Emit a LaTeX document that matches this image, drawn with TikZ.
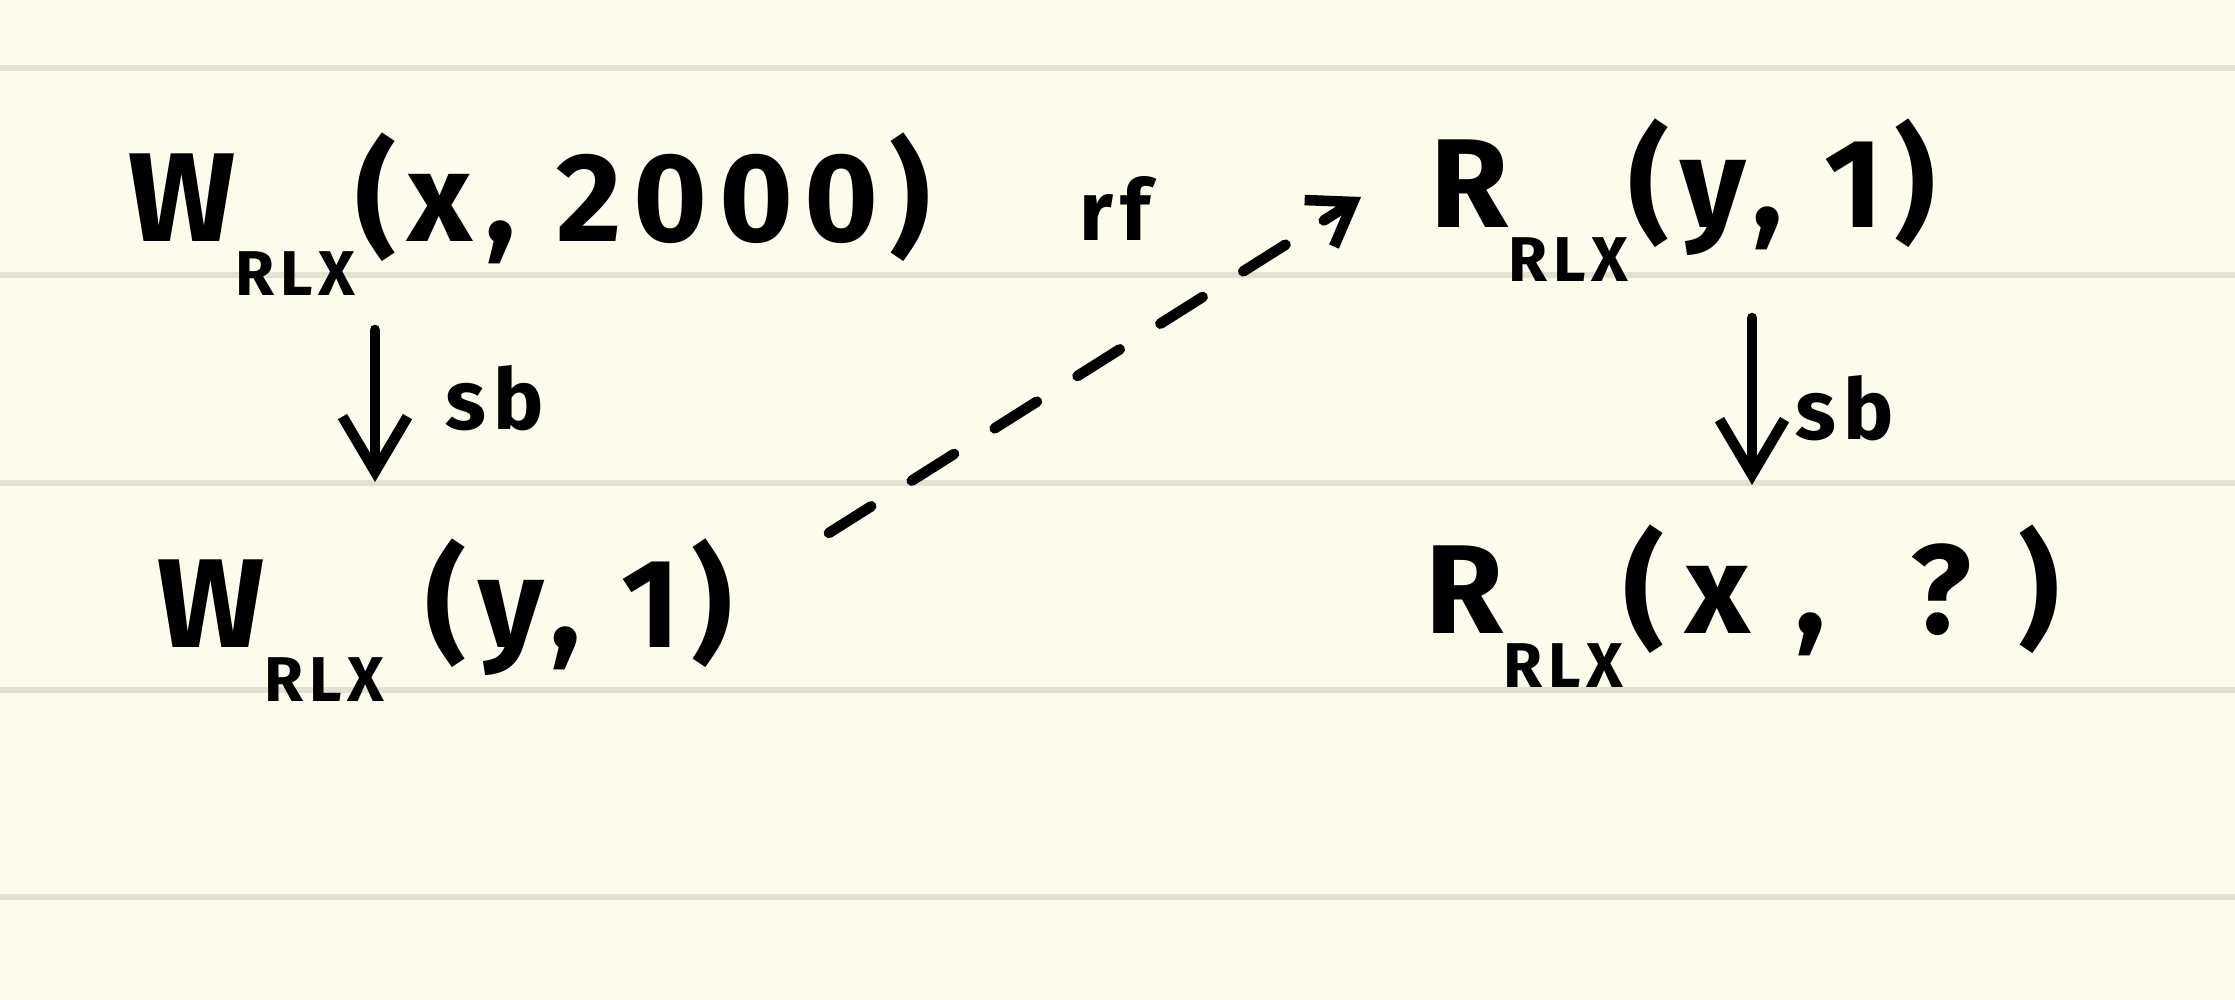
\documentclass[tikz,border=0pt]{standalone}
\usepackage{fontspec}
\setmainfont[LetterSpace=9]{Fira Sans}
\usetikzlibrary{arrows.meta,calc}
\definecolor{paper}{HTML}{FDFBEC}
\definecolor{rule}{HTML}{E3E1D2}
\newcommand{\rlx}{\raisebox{-0.42em}{\fontsize{18}{18}\selectfont RLX}}
\tikzset{
  event/.style={font=\fontsize{36}{42}\selectfont\bfseries, inner sep=0pt, anchor=base west},
  edgelabel/.style={font=\fontsize{24}{28}\selectfont\bfseries, inner sep=0pt},
  sbarrow/.style={line width=3pt, line cap=round, -{Straight Barb[length=5.5mm,width=6.5mm,line width=3pt]}},
  rfdash/.style={line width=3pt, line cap=round, dash pattern=on 5mm off 4.8mm},
  rftip/.style={line width=3pt, line cap=round, -{Straight Barb[length=4mm,width=5.5mm,line width=3pt]}}
}

\begin{document}
\begin{tikzpicture}
			%%%%% PAPER %%%%%
			
			\fill[paper] (0, 0) rectangle (22.35, 10);
			\useasboundingbox (0, 0) rectangle (22.35, 10);
			\foreach \y in {9.32, 7.25, 5.17, 3.10, 1.03}
				\draw[rule, line width=1.8pt] (0, \y) -- (22.35, \y);
			
			%%%%% EVENTS %%%%%
			
			\node[event] (wx) at (1.28, 7.58) {W\rlx(x, 2000)};
			\node[event] (ry) at (14.30, 7.72) {R\rlx(y, 1)};
			\node[event] (wy) at (1.57, 3.52) {W\rlx\ (y, 1)};
			\node[event] (rx) at (14.25, 3.66) {R\rlx(\,x\hspace{0.45cm},\hspace{0.85cm}?\hspace{0.47cm})};
			
			%%%%% EDGES %%%%%
			
			\draw[sbarrow] ([shift={(2.47,-0.88)}]wx.base west) -- ([shift={(2.18,1.66)}]wy.base west);
			\node[edgelabel] (sbl) at (4.95, 6.02) {sb};
			
			\draw[sbarrow] ([shift={(3.22,-0.90)}]ry.base west) -- ([shift={(3.27,1.49)}]rx.base west);
			\node[edgelabel] (sbr) at (18.45, 5.92) {sb};
			
			\coordinate (rfstart) at ([shift={(0.95,1.15)}]wy.base east);
			\coordinate (rfend) at ([shift={(-0.69,0.31)}]ry.base west);
			\draw[rfdash] (rfstart) -- ($(rfstart)!0.88!(rfend)$);
			\draw[rftip] ($(rfstart)!0.93!(rfend)$) -- (rfend);
			\node[edgelabel] (rfl) at (11.15, 7.91) {rf};
			
		\end{tikzpicture}
\end{document}
